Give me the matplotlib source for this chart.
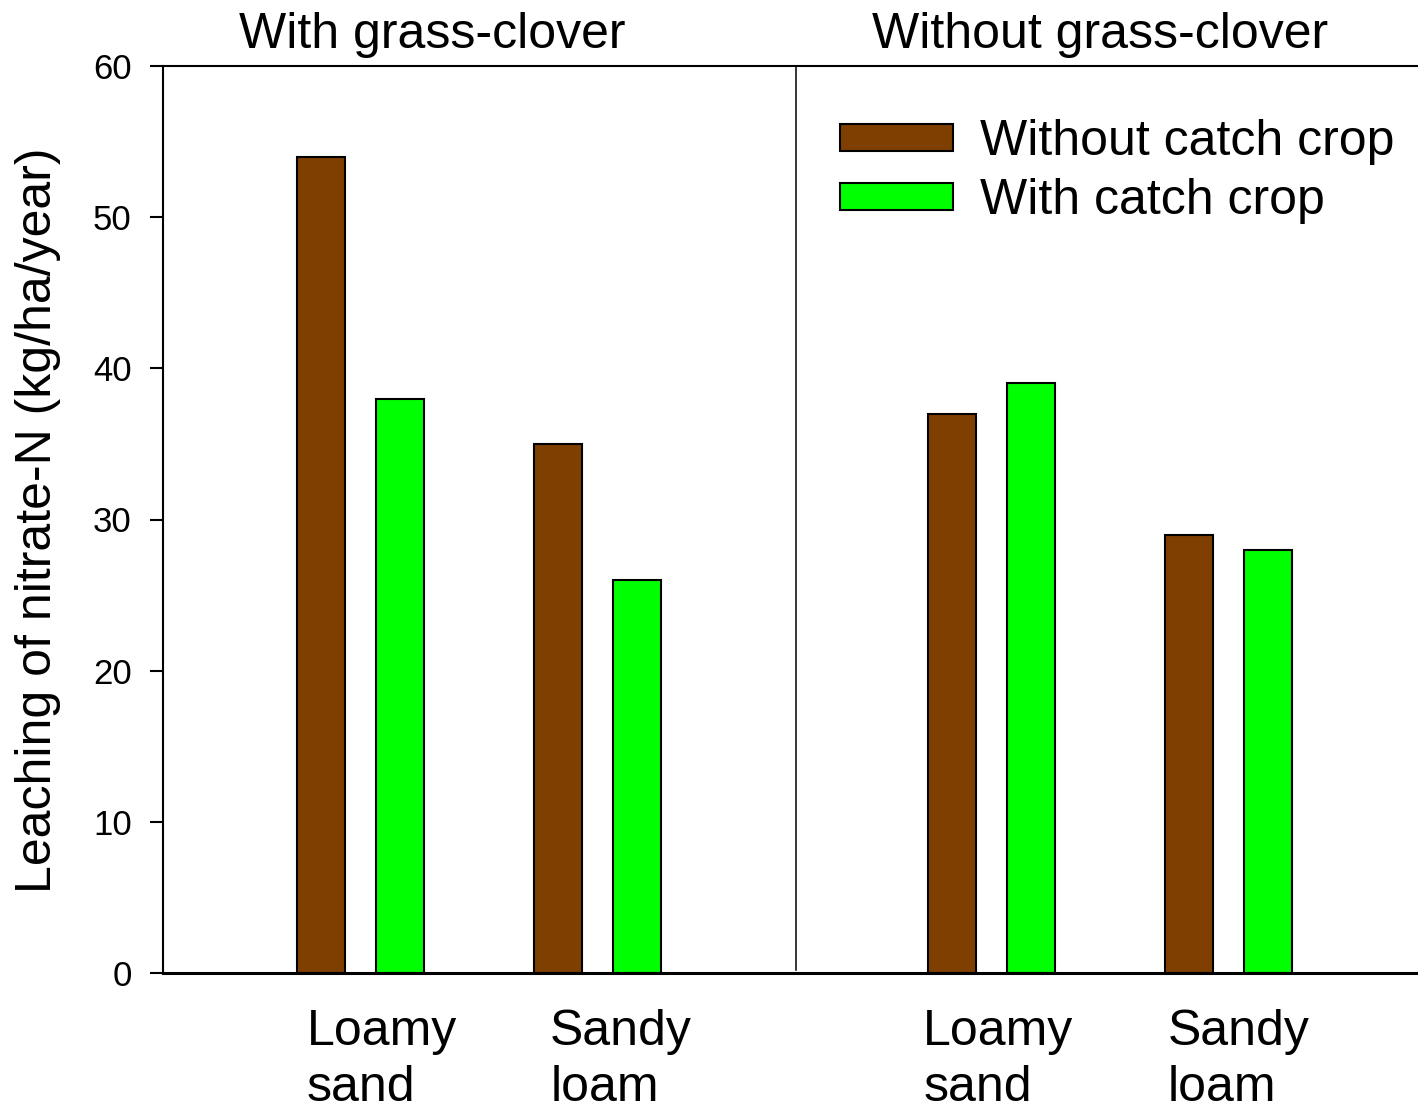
import matplotlib
matplotlib.use("Agg")
import matplotlib.pyplot as plt
import numpy as np

# ---- data ----
panels = ["With grass-clover", "Without grass-clover"]
soils = ["Loamy\nsand", "Sandy\nloam"]
series = ["Without catch crop", "With catch crop"]
without_cc = [54, 35, 37, 29]
with_cc = [38, 26, 39, 28]
yticks = [0, 10, 20, 30, 40, 50, 60]

colors = ["#7F3F00", "#00FF00"]

plt.rcParams['font.family'] = ['Liberation Sans', 'DejaVu Sans']

W, H = 1418, 1109
fig = plt.figure(figsize=(W / 100, H / 100), dpi=100)
ax = fig.add_axes([163 / W, 1 - 973 / H, (1418 - 163) / W, (973 - 66) / H])

panel_gap = 2.662
pos = np.array([0, 1, panel_gap, panel_gap + 1])
bw = 0.2025
off = 0.1667

ax.bar(pos - off, without_cc, width=bw, color=colors[0], edgecolor="black",
       linewidth=1.5, label=series[0], zorder=2)
ax.bar(pos + off, with_cc, width=bw, color=colors[1], edgecolor="black",
       linewidth=1.5, label=series[1], zorder=2)

ax.set_xlim(-0.833, 4.462)
ax.set_ylim(0, 60)
ax.set_yticks(yticks)
ax.tick_params(axis='y', direction='out', length=9.5, width=1.5, pad=13, labelsize=25)
ax.set_xticks([])

for s in ["left", "top"]:
    ax.spines[s].set_linewidth(1.5)
ax.spines["bottom"].set_linewidth(2.2)
ax.spines["right"].set_visible(False)

divider = (1 + panel_gap) / 2 + 0.006
ax.axvline(divider, color="black", linewidth=1.1, ymin=0.003, ymax=1)

# category labels
label_shift = [0.09, 0.1, 0.03, 0.045]
for p, sh, lab in zip(pos, label_shift, soils * 2):
    ax.text(p + sh, -0.04, lab, transform=ax.get_xaxis_transform(), ha="center",
            va="top", fontsize=36, linespacing=1.27, multialignment="left")

# panel titles
title_x = [0.305, panel_gap + 0.46]
for tx, t in zip(title_x, panels):
    ax.text(tx, 1.02, t, transform=ax.get_xaxis_transform(), ha="center",
            va="baseline", fontsize=36)

fig.text(38 / W, 1 - 520 / H, "Leaching of nitrate-N (kg/ha/year)", rotation=90,
         ha="center", va="center", fontsize=36)

ax.legend(loc="upper left", bbox_to_anchor=((846 - 163) / 1255 - 0.005, 1 - (119 - 66) / 907),
          frameon=False, fontsize=36, handlelength=2.26, handleheight=0.45,
          handletextpad=0.54, labelspacing=0.26, borderaxespad=0, borderpad=0)

fig.savefig("out.png", dpi=100)
